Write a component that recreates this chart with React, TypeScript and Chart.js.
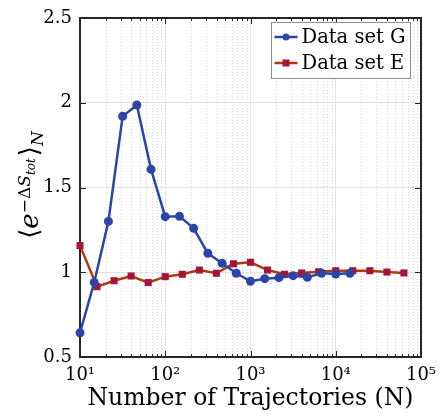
import React, { useEffect, useRef } from 'react';
import { Chart, registerables } from 'chart.js';

Chart.register(...registerables);

// ---- data ----
const nG = [10, 14.68, 21.54, 31.62, 46.42, 68.13, 100, 146.8, 215.4, 316.2, 464.2, 681.3, 1000, 1468, 2154, 3162, 4642, 6813, 10000, 14678];
const valG = [0.643, 0.94, 1.30, 1.92, 1.987, 1.607, 1.328, 1.33, 1.259, 1.112, 1.053, 0.994, 0.947, 0.962, 0.968, 0.98, 0.97, 0.994, 0.99, 0.994];
const nE = [10, 15.85, 25.12, 39.81, 63.1, 100, 158.5, 251.2, 398.1, 631, 1000, 1585, 2512, 3981, 6310, 10000, 15849, 25119, 39811, 63096];
const valE = [1.157, 0.915, 0.95, 0.978, 0.939, 0.974, 0.988, 1.013, 0.994, 1.05, 1.059, 1.013, 0.988, 0.996, 1.003, 1.009, 1.009, 1.009, 1.001, 0.996];

const labelG = 'Data set G';
const labelE = 'Data set E';
const xTitle = 'Number of Trajectories (N)';
const xMajorTicks = [10, 100, 1000, 10000, 100000];
const xTickLabels = ['10¹', '10²', '10³', '10⁴', '10⁵'];
const yTicks = [0.5, 1, 1.5, 2, 2.5];
const yTickLabels = ['0.5', '1', '1.5', '2', '2.5'];

const BLUE = '#2b44a6';
const RED_LINE = '#ad3c0c';
const RED_MARK = '#a3153a';
const SERIF = '"DejaVu Serif", "Liberation Serif", serif';

function isMajor(v: number) {
  return xMajorTicks.some((m) => Math.abs(v - m) / m < 1e-6);
}

const decorPlugin = {
  id: 'decor',
  beforeDatasetsDraw(chart: any) {
    const { ctx, chartArea: a, scales } = chart;
    const xs = scales.x;
    const ys = scales.y;
    ctx.save();
    // minor dotted grid
    ctx.strokeStyle = '#d6d6d6';
    ctx.lineWidth = 1;
    ctx.setLineDash([1, 2]);
    for (const t of xs.ticks) {
      if (isMajor(t.value)) continue;
      const px = Math.round(xs.getPixelForValue(t.value)) + 0.5;
      ctx.beginPath();
      ctx.moveTo(px, a.top);
      ctx.lineTo(px, a.bottom);
      ctx.stroke();
    }
    ctx.setLineDash([]);
    // inward ticks
    ctx.strokeStyle = '#262626';
    ctx.lineWidth = 1;
    for (const t of xs.ticks) {
      const len = isMajor(t.value) ? 6 : 3;
      const px = Math.round(xs.getPixelForValue(t.value)) + 0.5;
      ctx.beginPath();
      ctx.moveTo(px, a.bottom);
      ctx.lineTo(px, a.bottom - len);
      ctx.moveTo(px, a.top);
      ctx.lineTo(px, a.top + len);
      ctx.stroke();
    }
    for (const v of yTicks) {
      const py = Math.round(ys.getPixelForValue(v)) + 0.5;
      ctx.beginPath();
      ctx.moveTo(a.left, py);
      ctx.lineTo(a.left + 6, py);
      ctx.moveTo(a.right, py);
      ctx.lineTo(a.right - 6, py);
      ctx.stroke();
    }
    // box
    ctx.strokeStyle = '#262626';
    ctx.lineWidth = 2;
    ctx.strokeRect(a.left, a.top, a.right - a.left, a.bottom - a.top);
    ctx.restore();
  },
  afterDatasetsDraw(chart: any) {
    const { ctx, chartArea: a } = chart;
    ctx.save();
    // legend
    const bx = a.right - 149.5;
    const by = a.top + 4.5;
    const bw = 139;
    const bh = 56;
    ctx.fillStyle = '#ffffff';
    ctx.fillRect(bx, by, bw, bh);
    ctx.strokeStyle = '#8c8c8c';
    ctx.lineWidth = 1;
    ctx.strokeRect(bx, by, bw, bh);
    const rows = [
      { label: labelG, line: BLUE, mark: BLUE, shape: 'circle' },
      { label: labelE, line: RED_LINE, mark: RED_MARK, shape: 'rect' },
    ];
    rows.forEach((r, i) => {
      const cy = by + 14.5 + i * 26;
      ctx.strokeStyle = r.line;
      ctx.lineWidth = 2.5;
      ctx.beginPath();
      ctx.moveTo(bx + 3, cy);
      ctx.lineTo(bx + 26, cy);
      ctx.stroke();
      ctx.fillStyle = r.mark;
      if (r.shape === 'circle') {
        ctx.beginPath();
        ctx.arc(bx + 14.5, cy, 3.5, 0, Math.PI * 2);
        ctx.fill();
      } else {
        ctx.fillRect(bx + 11, cy - 3.5, 7, 7);
      }
      ctx.fillStyle = '#000';
      ctx.font = '19.5px ' + SERIF;
      ctx.textBaseline = 'middle';
      ctx.textAlign = 'left';
      ctx.fillText(r.label, bx + 30, cy + 1);
    });
    ctx.restore();
  },
  afterDraw(chart: any) {
    const { ctx, chartArea: a } = chart;
    ctx.save();
    ctx.translate(37.5, (a.top + a.bottom) / 2 - 2.5);
    ctx.rotate(-Math.PI / 2);
    ctx.fillStyle = '#000';
    ctx.textBaseline = 'alphabetic';
    ctx.textAlign = 'left';
    const parts = [
      { t: '⟨', f: '26px "DejaVu Sans", ' + SERIF, dy: 0, gap: 0 },
      { t: 'e', f: 'italic 26px ' + SERIF, dy: 0, gap: 0 },
      { t: '−Δ', f: '17px ' + SERIF, dy: -8, gap: 0 },
      { t: 'S', f: 'italic 17px ' + SERIF, dy: -8, gap: 0 },
      { t: 'tot', f: 'italic 12px ' + SERIF, dy: -3, gap: 2 },
      { t: '⟩', f: '26px "DejaVu Sans", ' + SERIF, dy: 0, gap: 0 },
      { t: 'N', f: 'italic 17px ' + SERIF, dy: 5, gap: 0 },
    ];
    let total = 0;
    const widths = parts.map((p) => {
      ctx.font = p.f;
      const w = ctx.measureText(p.t).width + p.gap;
      total += w;
      return w;
    });
    let x = -total / 2;
    parts.forEach((p, i) => {
      ctx.font = p.f;
      ctx.fillText(p.t, x, p.dy);
      x += widths[i];
    });
    ctx.restore();
  },
};

export default function App() {
  const ref = useRef<HTMLCanvasElement | null>(null);
  useEffect(() => {
    if (!ref.current) return;
    const chart = new Chart(ref.current, {
      type: 'line',
      data: {
        datasets: [
          {
            label: labelG,
            data: nG.map((n, i) => ({ x: n, y: valG[i] })),
            borderColor: BLUE,
            backgroundColor: BLUE,
            pointBackgroundColor: BLUE,
            pointBorderColor: BLUE,
            borderWidth: 2.5,
            pointRadius: 4.5,
            pointStyle: 'circle',
            pointBorderWidth: 0,
            tension: 0,
            clip: false,
          },
          {
            label: labelE,
            data: nE.map((n, i) => ({ x: n, y: valE[i] })),
            borderColor: RED_LINE,
            backgroundColor: RED_MARK,
            pointBackgroundColor: RED_MARK,
            pointBorderColor: RED_MARK,
            borderWidth: 2.5,
            pointRadius: 5,
            pointStyle: 'rect',
            pointBorderWidth: 0,
            tension: 0,
            clip: false,
          },
        ],
      },
      options: {
        animation: false,
        responsive: false,
        maintainAspectRatio: false,
        layout: { padding: { top: 18, right: 21, left: 0, bottom: 0 } },
        plugins: { legend: { display: false }, tooltip: { enabled: false } },
        scales: {
          x: {
            type: 'logarithmic',
            min: 10,
            max: 100000,
            afterBuildTicks: (scale: any) => {
              const ticks: any[] = [];
              for (let d = 0; d < xMajorTicks.length; d++) {
                const base = xMajorTicks[d];
                ticks.push({ value: base });
                if (d < xMajorTicks.length - 1) {
                  for (let k = 2; k <= 9; k++) ticks.push({ value: base * k });
                }
              }
              scale.ticks = ticks;
            },
            afterFit: (scale: any) => {
              scale.height = 59;
              scale.paddingLeft = 0;
              scale.paddingRight = 0;
            },
            ticks: {
              autoSkip: false,
              maxRotation: 0,
              minRotation: 0,
              padding: 8,
              color: '#000',
              font: { family: SERIF, size: 18 },
              callback: (v: any) => {
                const i = xMajorTicks.findIndex((m) => Math.abs(v - m) / m < 1e-6);
                return i >= 0 ? xTickLabels[i] : '';
              },
            },
            grid: {
              drawTicks: false,
              color: (c: any) => (c.tick && isMajor(c.tick.value) ? '#e4e4e4' : 'rgba(0,0,0,0)'),
              lineWidth: 1,
            },
            border: { display: false },
            title: {
              display: true,
              text: xTitle,
              color: '#000',
              font: { family: SERIF, size: 23.5 },
              padding: { top: 0, bottom: 3 },
            },
          },
          y: {
            type: 'linear',
            min: 0.5,
            max: 2.5,
            afterBuildTicks: (scale: any) => {
              scale.ticks = yTicks.map((v) => ({ value: v }));
            },
            afterFit: (scale: any) => {
              scale.width = 80;
              scale.paddingTop = 0;
              scale.paddingBottom = 0;
            },
            ticks: {
              padding: 8,
              color: '#000',
              font: { family: SERIF, size: 18 },
              callback: (v: any) => {
                const i = yTicks.indexOf(v);
                return i >= 0 ? yTickLabels[i] : '';
              },
            },
            grid: { drawTicks: false, color: '#e4e4e4', lineWidth: 1 },
            border: { display: false },
          },
        },
      },
      plugins: [decorPlugin],
    } as any);
    return () => chart.destroy();
  }, []);
  return (
    <div style={{ position: 'absolute', left: 0, top: 0, width: 442, height: 416, background: '#fff' }}>
      <canvas ref={ref} width={442} height={416} style={{ display: 'block' }} />
    </div>
  );
}
